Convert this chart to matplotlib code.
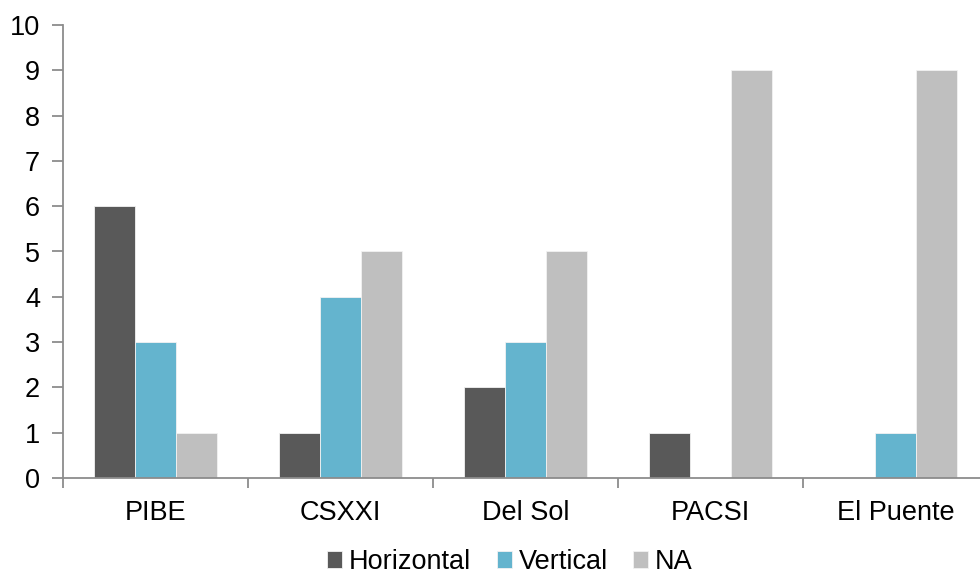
import matplotlib.pyplot as plt
import numpy as np

plt.rcParams['font.family'] = ['Liberation Sans', 'DejaVu Sans']

categories = ['PIBE', 'CSXXI', 'Del Sol', 'PACSI', 'El Puente']
horizontal = [6, 1, 2, 1, 0]
vertical = [3, 4, 3, 0, 1]
na = [1, 5, 5, 9, 9]

series = [('Horizontal', horizontal, '#595959'),
          ('Vertical', vertical, '#64b4ce'),
          ('NA', na, '#bfbfbf')]

fig = plt.figure(figsize=(9.8, 5.75), dpi=100)
ax = fig.add_axes([63 / 980, 1 - 478 / 575, 925 / 980, 453 / 575])

x = np.arange(len(categories))
w = 0.222
for i, (name, vals, col) in enumerate(series):
    ax.bar(x + (i - 1) * w, vals, w, color=col, label=name,
           edgecolor='#f2f2f2', linewidth=0.6)

ax.set_xlim(-0.5, len(categories) - 0.5)
ax.set_ylim(0, 10)
ax.set_yticks(range(0, 11))
ax.set_xticks(x)
ax.set_xticklabels(categories)
ax.set_xticks(np.arange(-0.5, len(categories)), minor=True)

spine_col = '#8c8c8c'
for s in ['top', 'right']:
    ax.spines[s].set_visible(False)
for s in ['left', 'bottom']:
    ax.spines[s].set_color(spine_col)
    ax.spines[s].set_linewidth(1.3)

ax.tick_params(axis='y', direction='out', length=8, width=1.3, color=spine_col,
               labelsize=19.5, pad=8.5)
ax.tick_params(axis='x', which='major', length=0, labelsize=19.5, pad=16)
ax.tick_params(axis='x', which='minor', direction='out', length=7, width=1.3,
               color=spine_col)

ax.legend(loc='center', bbox_to_anchor=(510 / 980, 13 / 575),
          bbox_transform=fig.transFigure, ncol=3, frameon=False, fontsize=19.5,
          handlelength=0.55, handleheight=0.55, handletextpad=0.25,
          columnspacing=0.95, borderaxespad=0)

fig.savefig('out.png', dpi=100)
